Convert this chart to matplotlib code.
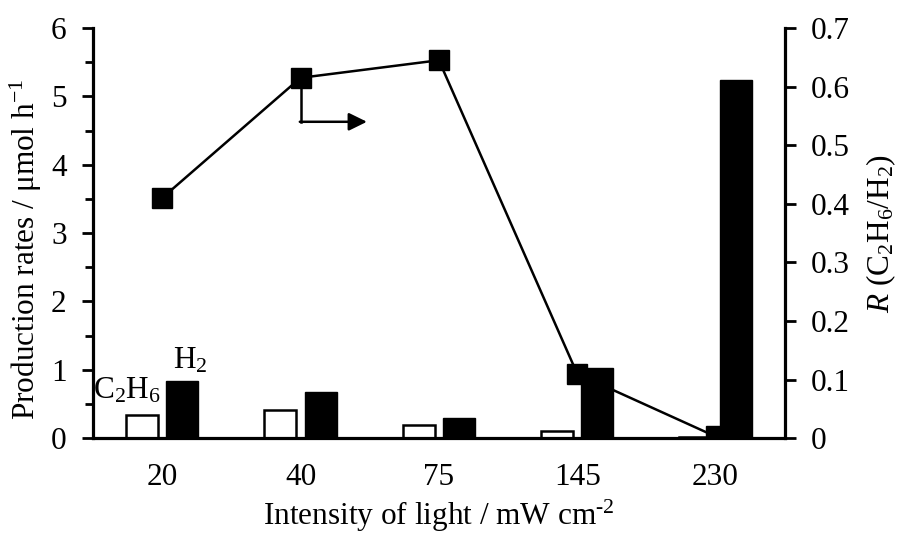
import matplotlib
matplotlib.use("Agg")
import matplotlib.pyplot as plt
import numpy as np

plt.rcParams["font.family"] = ["Liberation Serif", "DejaVu Serif"]
plt.rcParams["mathtext.fontset"] = "custom"
plt.rcParams["mathtext.rm"] = "Liberation Serif"
plt.rcParams["mathtext.it"] = "Liberation Serif:italic"

FS = 22.5

# Light intensity categories (mW cm-2)
intensities = ["20", "40", "75", "145", "230"]
# Production rates (umol h-1)
c2h6_rates = [0.34, 0.41, 0.20, 0.10, 0.02]
h2_rates = [0.84, 0.68, 0.30, 1.02, 5.24]
# Selectivity ratio R = C2H6/H2
ratio = [0.41, 0.615, 0.645, 0.11, 0.003]

fig = plt.figure(figsize=(9.03, 5.39), dpi=100)
ax = fig.add_axes([0.103, 0.187, 0.766, 0.761])

x = np.arange(len(intensities))
bw = 0.231
off = 0.145
ax.bar(x - off, c2h6_rates, bw, facecolor="white", edgecolor="black", linewidth=1.8, zorder=2)
ax.bar(x + off, h2_rates, bw, facecolor="black", edgecolor="black", linewidth=1.0, zorder=2)

ax.set_xlim(-0.5, 4.5)
ax.set_ylim(0, 6)
ax.set_xticks(x)
ax.set_xticklabels(intensities)
ax.set_yticks(np.arange(0, 7, 1))
ax.set_yticks(np.arange(0.5, 6, 1), minor=True)
ax.tick_params(axis="x", length=0, pad=18, labelsize=FS)
ax.tick_params(axis="y", which="major", direction="out", length=8, width=2, pad=11, labelsize=FS)
ax.tick_params(axis="y", which="minor", direction="out", length=5.5, width=2)

for side in ("top", "right"):
    ax.spines[side].set_visible(False)
for side in ("left", "bottom"):
    ax.spines[side].set_linewidth(2.3)

ax.set_xlabel("Intensity of light / mW cm$^{\\mathregular{\u2010 2}}$", fontsize=FS, labelpad=4)
ax.set_ylabel(r"Production rates / $\mathregular{\mu}$mol h$^{\mathregular{-1}}$", fontsize=FS)
ax.yaxis.set_label_coords(-0.071, 0.46)

ax.text(-0.254, 0.69, r"C$_2$H$_6$", fontsize=FS, ha="center", va="center")
ax.text(0.2, 1.14, r"H$_2$", fontsize=FS, ha="center", va="center")

ax2 = ax.twinx()
ax2.set_position(ax.get_position())
ax2.plot(x, ratio, color="black", linewidth=1.8, marker="s", markersize=15, zorder=3)
ax2.set_ylim(0, 0.7)
ax2.set_xlim(-0.5, 4.5)
rt = np.round(np.arange(0, 0.71, 0.1), 1)
ax2.set_yticks(rt)
ax2.set_yticklabels(["0"] + [f"{v:.1f}" for v in rt[1:]])
ax2.tick_params(axis="y", direction="out", length=8, width=2, pad=11, labelsize=FS)
for side in ("top", "left", "bottom"):
    ax2.spines[side].set_visible(False)
ax2.spines["right"].set_linewidth(2.3)
ax2.set_ylabel(r"$R$ (C$_2$H$_6$/H$_2$)", fontsize=FS, labelpad=10)

# Arrow pointing from the 40 mW point toward the right-hand axis
ax2.plot([1, 1], [0.615, 0.54], color="black", linewidth=1.8, zorder=3)
ax2.annotate("", xy=(1.48, 0.54), xytext=(0.995, 0.54),
             arrowprops=dict(arrowstyle="-|>,head_length=0.55,head_width=0.27",
                             mutation_scale=20, color="black", lw=1.8,
                             shrinkA=0, shrinkB=0), zorder=3)

fig.savefig("out.png", dpi=100)
